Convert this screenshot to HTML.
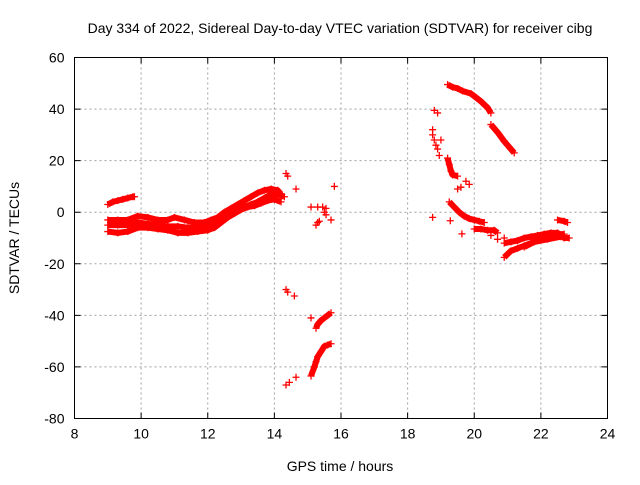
<!DOCTYPE html>
<html><head><meta charset="utf-8"><style>
body{margin:0;background:#fff;}
svg text{font-family:"Liberation Sans",sans-serif;font-size:14px;fill:#000;}
</style></head><body>
<svg id="chart" width="640" height="480" viewBox="0 0 640 480" xmlns="http://www.w3.org/2000/svg">
<text x="340" y="33" text-anchor="middle">Day 334 of 2022, Sidereal Day-to-day VTEC variation (SDTVAR) for receiver cibg</text>
<text x="340" y="471" text-anchor="middle">GPS time / hours</text>
<text transform="translate(19,238) rotate(-90)" text-anchor="middle">SDTVAR / TECUs</text>
<g id="grid"></g>
<g id="axes"></g>
<g id="marks"></g>
<rect x="74.5" y="57.5" width="533" height="361" fill="none" stroke="#000" stroke-width="1"/>
</svg>
<script>
const xTicks=[8,10,12,14,16,18,20,22,24];
const yTicks=[60,40,20,0,-20,-40,-60,-80];
// tracks: hours & values
const trackA_x=[9.0,9.15,9.3,9.45,9.6,9.75,9.8];
const trackA_y=[3,4,4.5,5,5.5,6,6];
const trackB_x=[9.0,9.3,9.6,9.9,10.2,10.5,10.8,11.0,11.3,11.6,11.9,12.1,12.3,12.5,12.7,12.9,13.1,13.3,13.5,13.7,13.9,14.1,14.2];
const trackB_y=[-3,-3,-3,-1.5,-2,-3,-3,-2,-3,-4,-4,-3,-2,0,1.5,3,4.5,6,7.5,8.5,9,8.5,7];
const trackC_x=[9.0,9.3,9.6,9.9,10.2,10.5,10.8,11.1,11.4,11.7,12.0,12.3,12.5,12.7,12.9,13.1,13.3,13.5,13.7,13.9,14.1,14.3];
const trackC_y=[-5,-5,-5,-4,-4.5,-5,-5.5,-5.5,-6,-6,-5.5,-4,-2,-0.5,1,2,3,4,5.5,7,7,6];
const trackD_x=[9.0,9.3,9.6,9.9,10.2,10.5,10.8,11.1,11.4,11.7,12.0,12.2,12.4,12.6,12.8,13.0,13.2,13.4,13.6,13.8,14.0,14.2];
const trackD_y=[-7.5,-8,-7.5,-6,-6,-6.5,-7,-8,-8,-7.5,-7,-6,-4,-2,-0.5,1,2,2.5,3.5,4.5,5,4];
const trackE_x=[15.25,15.3,15.4,15.5,15.6,15.7];
const trackE_y=[-45,-43.5,-42,-41,-40,-39];
const trackF_x=[15.1,15.2,15.25,15.3,15.4,15.5,15.6,15.7];
const trackF_y=[-63.5,-60,-58,-56,-54,-52,-51.5,-51];
const trackG_x=[19.2,19.35,19.5,19.65,19.9,20.0,20.2,20.4,20.5];
const trackG_y=[49.5,48.5,48,47,46,45,43,40.5,38.5];
const trackH_x=[20.5,20.7,20.9,21.1,21.2];
const trackH_y=[34,31,27.5,24.5,23];
const trackI_x=[19.2,19.25,19.3,19.35,19.5];
const trackI_y=[21,18.5,16,14.5,14];
const trackJ_x=[19.25,19.4,19.55,19.7,19.85,20.0,20.15,20.3];
const trackJ_y=[4,2,0,-1.5,-2.5,-3,-3.5,-4];
const trackK_x=[20.0,20.2,20.4,20.6,20.7];
const trackK_y=[-6.5,-6.5,-7,-7,-8];
const trackL_x=[20.9,21.1,21.3,21.5,21.7,21.9,22.1,22.3,22.5,22.7];
const trackL_y=[-17.5,-15,-14,-13,-12,-11,-10,-9,-8.5,-8.5];
const trackM_x=[20.9,21.1,21.3,21.5,21.7,21.9,22.1,22.3,22.5,22.7,22.85];
const trackM_y=[-12,-11.5,-11,-10,-9.5,-9,-8.5,-8,-8,-10,-10];
const trackN_x=[21.5,21.8,22.2,22.6];
const trackN_y=[-13.5,-11.5,-10.5,-9.5];
const trackO_x=[22.5,22.7,22.8];
const trackO_y=[-3,-3.5,-4];
const scatter_x=[14.35,14.4,14.65,15.8,15.1,15.3,15.45,15.55,15.5,15.55,15.7,15.3,15.25,15.35,14.35,14.4,14.6,15.1,14.35,14.45,14.65,18.75,18.75,18.8,18.85,18.9,19.0,18.95,18.8,18.9,19.6,19.85,19.75,18.75,19.28,19.63,20.5,20.7,20.9,19.5];
const scatter_y=[15,14,9,10,2,2,2,1.5,0,-1,-3,-4,-5,-3.5,-30,-31,-32.5,-41,-67,-66,-64,32,30,28,26,24.5,28,22,39.5,38.5,9.7,10.8,12,-2,-3.3,-8.4,-9,-10.5,-10,9];
const tracks=[[trackA_x,trackA_y],[trackB_x,trackB_y],[trackC_x,trackC_y],[trackD_x,trackD_y],[trackE_x,trackE_y],[trackF_x,trackF_y],[trackG_x,trackG_y],[trackH_x,trackH_y],[trackI_x,trackI_y],[trackJ_x,trackJ_y],[trackK_x,trackK_y],[trackL_x,trackL_y],[trackM_x,trackM_y],[trackN_x,trackN_y],[trackO_x,trackO_y]];

const L=74.5,R=607.5,T=57.5,B=418.5;
const xS=h=>L+(h-8)/16*(R-L);
const yS=v=>T+(60-v)/140*(B-T);
const NS='http://www.w3.org/2000/svg';
const grid=document.getElementById('grid'),axes=document.getElementById('axes'),marks=document.getElementById('marks');
function mk(tag,parent,attrs){const e=document.createElementNS(NS,tag);for(const k in attrs)e.setAttribute(k,attrs[k]);parent.appendChild(e);return e;}
xTicks.forEach(t=>{
  const x=xS(t);
  if(t>8&&t<24){const g=mk('line',grid,{x1:x,x2:x,y1:T,y2:B,stroke:'#a0a0a0','stroke-dasharray':'2,3'});
  
  }
  const tk=mk('path',axes,{d:`M${x},${B}v-6M${x},${T}v6`,stroke:'#000'});
  
  
  const lb=mk('text',axes,{x:x,y:B+20,'text-anchor':'middle'});lb.textContent=t;
  
  
});
yTicks.forEach(t=>{
  const y=yS(t);
  if(t<60&&t>-80){const g=mk('line',grid,{x1:L,x2:R,y1:y,y2:y,stroke:'#a0a0a0','stroke-dasharray':'2,3'});
  
  }
  const tk=mk('path',axes,{d:`M${L},${y}h6M${R},${y}h-6`,stroke:'#000'});
  
  
  const lb=mk('text',axes,{x:L-10,y:y+5,'text-anchor':'end'});lb.textContent=t;
  
  
});
function plus(x,y){
  const p=mk('path',marks,{d:`M${x-3.5},${y}h7M${x},${y-3.5}v7`,stroke:'#f00','stroke-width':1.3});
  
  
}
tracks.forEach(([xs,ys])=>{
  const d=xs.map((h,i)=>(i?'L':'M')+xS(h)+','+yS(ys[i])).join('');
  const p=mk('path',marks,{d:d,stroke:'#f00','stroke-width':6,fill:'none','stroke-linejoin':'round'});
  
  
  xs.forEach((h,i)=>plus(xS(h),yS(ys[i])));
});
scatter_x.forEach((h,i)=>plus(xS(h),yS(scatter_y[i])));
</script>
</body></html>
